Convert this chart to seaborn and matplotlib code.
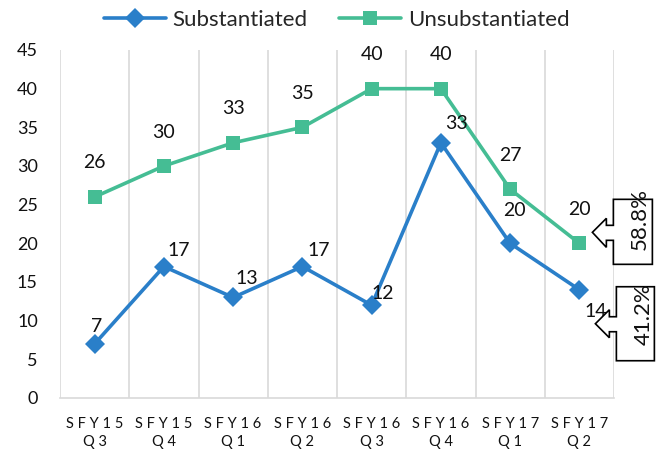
import numpy as np
import pandas as pd
import matplotlib
matplotlib.use("Agg")
import matplotlib.pyplot as plt
import matplotlib.transforms as mtransforms
from matplotlib.patches import Polygon
import seaborn as sns

categories = ["S F Y 1 5\nQ 3", "S F Y 1 5\nQ 4", "S F Y 1 6\nQ 1", "S F Y 1 6\nQ 2",
              "S F Y 1 6\nQ 3", "S F Y 1 6\nQ 4", "S F Y 1 7\nQ 1", "S F Y 1 7\nQ 2"]
substantiated = [7, 17, 13, 17, 12, 33, 20, 14]
unsubstantiated = [26, 30, 33, 35, 40, 40, 27, 20]
yticks = list(range(0, 50, 5))

BLUE = "#2A7FC9"
GREEN = "#45BD94"
GRID = "#D9D9D9"

sns.set_theme(style="white")
plt.rcParams['font.family'] = ['Lato', 'DejaVu Sans']

df = pd.DataFrame({
    "idx": list(range(len(categories))) * 2,
    "value": substantiated + unsubstantiated,
    "series": ["Substantiated"] * len(categories) + ["Unsubstantiated"] * len(categories),
})

fig = plt.figure(figsize=(6.6, 4.55), dpi=100)
ax = fig.add_axes([60 / 660, (455 - 398) / 455, (614 - 60) / 660, (398 - 50) / 455])

sns.lineplot(data=df, x="idx", y="value", hue="series", style="series",
             palette={"Substantiated": BLUE, "Unsubstantiated": GREEN},
             markers={"Substantiated": "D", "Unsubstantiated": "s"},
             dashes=False, linewidth=2.6, markersize=10, markeredgewidth=0,
             ax=ax, legend=True, zorder=3)

ax.set_xlim(-0.5, len(categories) - 0.5)
ax.set_ylim(0, 45)
ax.set_yticks(yticks)
ax.set_yticklabels([str(t) for t in yticks], fontsize=13, color="#111111")
ax.set_xticks(range(len(categories)))
ax.set_xticklabels(categories, fontsize=10.5, color="#111111", linespacing=1.3)
ax.set_xticks(np.arange(-0.5, len(categories)), minor=True)
ax.xaxis.grid(True, which="minor", color=GRID, linewidth=1.2)
ax.xaxis.grid(False, which="major")
ax.yaxis.grid(False)
ax.tick_params(axis="both", which="both", length=0)
ax.tick_params(axis="y", pad=16)
ax.tick_params(axis="x", pad=14)
ax.set_xlabel("")
ax.set_ylabel("")
for s in ["top", "right", "left"]:
    ax.spines[s].set_visible(False)
ax.spines["bottom"].set_color(GRID)
ax.spines["bottom"].set_linewidth(1.2)

# data labels (offsets in pixels)
sub_off = [(2, 17), (15, 16), (14, 19), (16, 16), (11, 12), (16, 19), (4, 33), (16, -22)]
for i, v in enumerate(substantiated):
    ax.annotate(str(v), (i, v), xytext=sub_off[i], textcoords="offset pixels",
                ha="center", va="center", fontsize=14, color="#111111", zorder=5)
for i, v in enumerate(unsubstantiated):
    ax.annotate(str(v), (i, v), xytext=(0, 34), textcoords="offset pixels",
                ha="center", va="center", fontsize=14, color="#111111", zorder=5)

# legend
handles, labels = ax.get_legend_handles_labels()
for h in handles:
    h.set_linewidth(2.6)
ax.legend(handles, labels, loc="center", bbox_to_anchor=(0.51, (455 - 20) / 455),
          bbox_transform=fig.transFigure, ncol=2, frameon=False, fontsize=16,
          handlelength=2.8, columnspacing=1.4, handletextpad=0.3)

# callouts with percentages
total = substantiated[-1] + unsubstantiated[-1]
last = len(categories) - 1
callouts = [
    (unsubstantiated[-1], unsubstantiated[-1] / total,
     [(13, 11), (27, 25), (27, 18), (34, 18), (34, 44), (73, 44), (73, -21),
      (34, -21), (34, 3), (27, 3), (27, -4)], (60, 24)),
    (substantiated[-1], substantiated[-1] / total,
     [(16, -34), (30, -20), (30, -27), (37, -27), (37, 3), (75, 3), (75, -71),
      (37, -71), (37, -42), (30, -42), (30, -48)], (64, -24)),
]
for val, frac, verts, toff in callouts:
    tr = mtransforms.IdentityTransform() + mtransforms.ScaledTranslation(last, val, ax.transData)
    poly = Polygon(verts, closed=True, facecolor="white", edgecolor="black",
                   linewidth=1.2, transform=tr, clip_on=False, zorder=6)
    fig.add_artist(poly)
    fig.text(toff[0], toff[1], f"{frac * 100:.1f}%", transform=tr, rotation=90,
             ha="center", va="center", fontsize=16, color="#111111", zorder=7)

fig.savefig("out.png", dpi=100, facecolor="white")
